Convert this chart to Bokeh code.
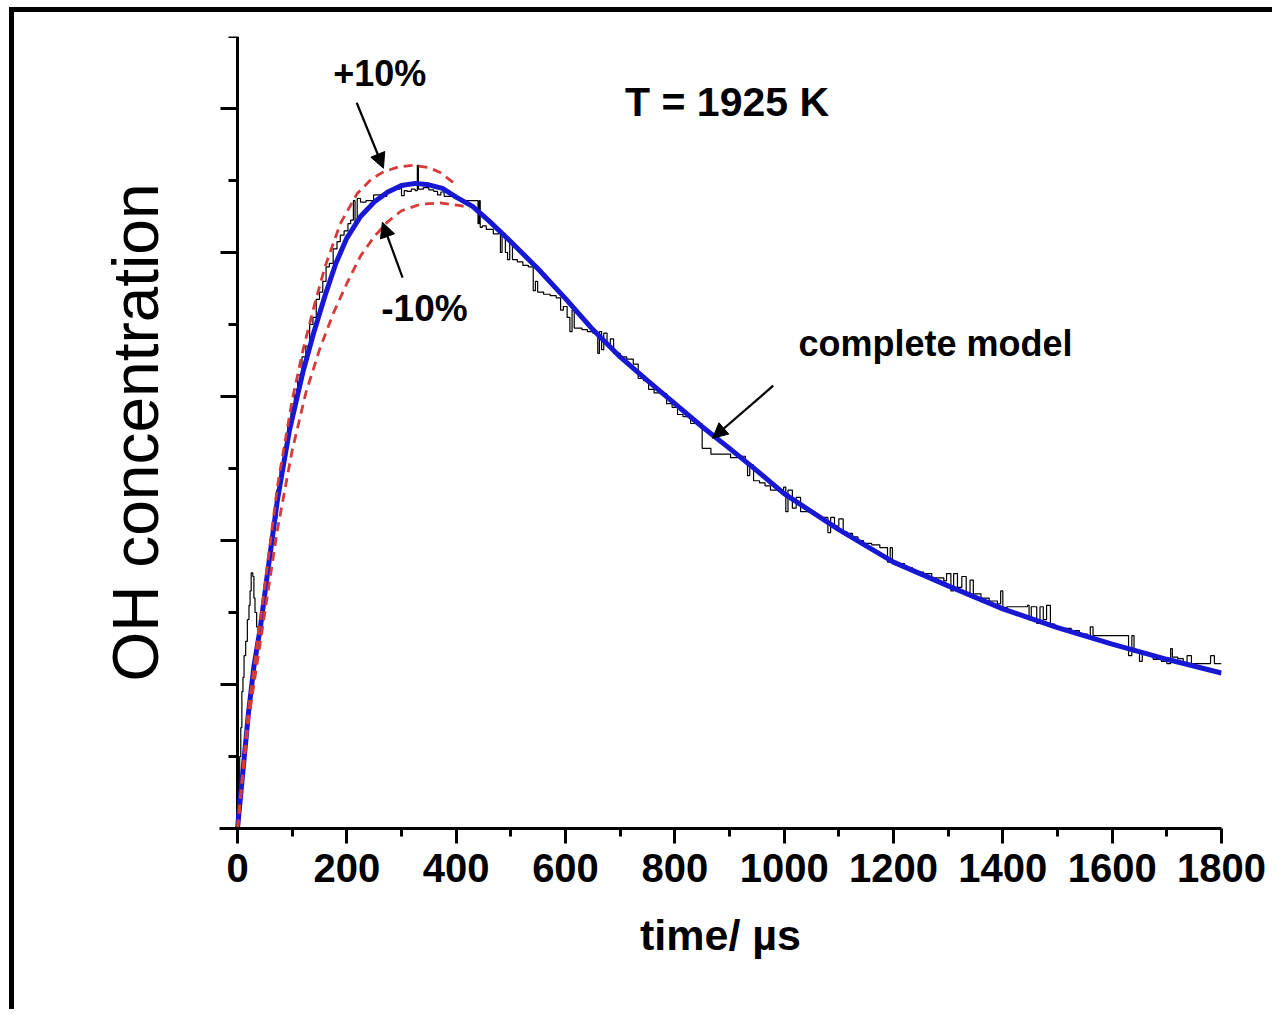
from bokeh.plotting import figure
from bokeh.models import Range1d, FixedTicker, Arrow, NormalHead, ColumnDataSource
from bokeh.core.properties import value
from bokeh.embed import file_html
from bokeh.resources import INLINE

# ---------------- data ----------------
model_t = [0, 5, 10, 20, 30, 42, 55, 73, 95, 120, 140, 160, 180, 200, 225, 250, 275, 300, 325,
           350, 375, 400, 430, 460, 500, 550, 600, 650, 700, 750, 800, 850, 900, 950, 1000,
           1100, 1200, 1300, 1400, 1500, 1600, 1700, 1800]
model_y = [0, 0.04, 0.08, 0.16, 0.225, 0.28, 0.355, 0.456, 0.553, 0.635, 0.69, 0.74, 0.785, 0.82,
           0.85, 0.87, 0.884, 0.893, 0.896, 0.894, 0.889, 0.877, 0.864, 0.844, 0.815, 0.777,
           0.736, 0.693, 0.655, 0.622, 0.59, 0.558, 0.528, 0.497, 0.465, 0.415, 0.370, 0.337,
           0.305, 0.279, 0.256, 0.235, 0.216]

plus10_t = [0, 20, 42, 73, 100, 120, 140, 160, 188, 219, 245, 267, 295, 322, 350, 371, 395]
plus10_y = [0, 0.165, 0.29, 0.475, 0.595, 0.665, 0.725, 0.78, 0.84, 0.882, 0.902, 0.912, 0.919,
            0.921, 0.918, 0.911, 0.897]

minus10_t = [0, 20, 42, 73, 100, 125, 150, 175, 200, 225, 250, 275, 300, 335, 371, 408, 425]
minus10_y = [0, 0.15, 0.26, 0.415, 0.525, 0.605, 0.665, 0.715, 0.757, 0.795, 0.822, 0.843,
             0.858, 0.867, 0.869, 0.865, 0.862]

# measured OH signal (step trace), (time, value) pairs
signal_rise = [(0, 0), (2, 0.05), (4, 0.10), (6, 0.14), (8, 0.19), (10, 0.21), (12, 0.24),
               (15, 0.26), (18, 0.29), (21, 0.31), (23, 0.33), (25, 0.355), (28, 0.35),
               (30, 0.32), (32, 0.30), (35, 0.28), (38, 0.275), (42, 0.29), (46, 0.31),
               (50, 0.34), (55, 0.37), (60, 0.40), (66, 0.43), (72, 0.47), (78, 0.50),
               (85, 0.53), (92, 0.56), (98, 0.585), (104, 0.61), (110, 0.63), (118, 0.655),
               (125, 0.67), (132, 0.70), (138, 0.71), (144, 0.735), (150, 0.745), (156, 0.76),
               (162, 0.78), (168, 0.785), (175, 0.805), (182, 0.815), (188, 0.824), (195, 0.83),
               (202, 0.84), (207, 0.845), (212, 0.872), (215, 0.84), (219, 0.875), (225, 0.87),
               (235, 0.872), (249, 0.88), (262, 0.878), (273, 0.886), (285, 0.888)]
signal_peak = [(297, 0.89), (300, 0.879), (305, 0.886), (310, 0.885), (318, 0.888), (325, 0.886),
               (329, 0.921), (331, 0.888), (340, 0.89), (350, 0.887), (359, 0.885), (366, 0.88),
               (372, 0.884), (378, 0.878), (390, 0.88), (400, 0.874), (408, 0.872), (420, 0.872),
               (432, 0.872), (440, 0.84), (442, 0.872), (444, 0.835)]
signal_decay = [(448, 0.837), (455, 0.832), (468, 0.826), (478, 0.828), (481, 0.80), (484, 0.826),
                (490, 0.80), (494, 0.79), (498, 0.815), (503, 0.79), (512, 0.787), (522, 0.782),
                (532, 0.78), (541, 0.747), (545, 0.76), (549, 0.745), (560, 0.742), (572, 0.74),
                (583, 0.737), (591, 0.72), (596, 0.725), (603, 0.71), (608, 0.69), (612, 0.72),
                (616, 0.695), (622, 0.695), (630, 0.693), (640, 0.69), (650, 0.688), (659, 0.66),
                (662, 0.69), (666, 0.665), (670, 0.688), (676, 0.67), (682, 0.68), (688, 0.66),
                (700, 0.655), (712, 0.652), (724, 0.645), (733, 0.625), (743, 0.622), (752, 0.61),
                (762, 0.605), (774, 0.604), (785, 0.59), (795, 0.585), (805, 0.575), (815, 0.572),
                (829, 0.5625), (840, 0.562), (850, 0.528), (858, 0.528), (866, 0.52), (875, 0.52),
                (890, 0.52), (902, 0.515), (915, 0.517), (929, 0.51), (933, 0.49), (937, 0.505),
                (944, 0.483), (955, 0.48), (965, 0.476), (975, 0.47), (990, 0.47), (999, 0.474),
                (1003, 0.44), (1007, 0.47), (1015, 0.445), (1022, 0.46), (1030, 0.44),
                (1042, 0.44), (1055, 0.435), (1065, 0.43), (1072, 0.432), (1080, 0.411),
                (1085, 0.432), (1092, 0.42), (1100, 0.43), (1108, 0.412), (1115, 0.41),
                (1125, 0.405), (1135, 0.40), (1145, 0.396), (1160, 0.394), (1175, 0.39),
                (1189, 0.37), (1194, 0.39), (1198, 0.368), (1207, 0.368), (1220, 0.362),
                (1235, 0.356), (1255, 0.354), (1270, 0.348), (1292, 0.344), (1297, 0.354),
                (1305, 0.33), (1310, 0.354), (1317, 0.335), (1325, 0.35), (1333, 0.325),
                (1340, 0.345), (1346, 0.326), (1360, 0.32), (1375, 0.316), (1390, 0.312)]
signal_tail = [(1396, 0.33), (1400, 0.307), (1408, 0.308), (1445, 0.31), (1448, 0.29),
               (1452, 0.308), (1456, 0.308), (1462, 0.285), (1468, 0.308), (1474, 0.29),
               (1480, 0.31), (1487, 0.284), (1495, 0.28), (1505, 0.278), (1511, 0.278),
               (1525, 0.275), (1540, 0.27), (1555, 0.268), (1560, 0.28), (1565, 0.268),
               (1572, 0.268), (1590, 0.268), (1610, 0.268), (1627, 0.268), (1630, 0.24),
               (1636, 0.268), (1640, 0.245), (1646, 0.247), (1650, 0.232), (1655, 0.245),
               (1664, 0.243), (1675, 0.235), (1690, 0.232), (1700, 0.229), (1707, 0.25),
               (1710, 0.238), (1720, 0.236), (1730, 0.229), (1737, 0.24), (1745, 0.229),
               (1760, 0.229), (1775, 0.229), (1780, 0.24), (1787, 0.229), (1800, 0.229)]

x_ticks = [0, 200, 400, 600, 800, 1000, 1200, 1400, 1600, 1800]
x_minor = [100, 300, 500, 700, 900, 1100, 1300, 1500, 1700]
y_ticks = [0, 0.2, 0.4, 0.6, 0.8, 1.0]
y_minor = [0.1, 0.3, 0.5, 0.7, 0.9, 1.1]

annot_text = ["+10%", "-10%", "T = 1925 K", "complete model"]
annot_t = [175, 263, 709, 1026]
annot_y = [1.048, 0.722, 1.009, 0.673]

arrow_start_t = [218, 302, 980]
arrow_start_y = [1.008, 0.765, 0.615]
arrow_end_t = [267, 265, 869]
arrow_end_y = [0.917, 0.842, 0.542]

# ---------------- layout ----------------
X_END = 1800
Y_END = 1.1
PX_PER_T = 984 / X_END          # 984 px between t=0 and t=1800
LEFT_EXT = 18 / PX_PER_T        # the frame starts 18 px left of t=0 (long y ticks)
MAJOR_LEN = 17 / PX_PER_T
MINOR_LEN = 9 / PX_PER_T

W, H = 1263, 1002
p = figure(width=W, height=H, output_backend="svg", toolbar_location=None,
           x_range=Range1d(-LEFT_EXT, X_END), y_range=Range1d(0, Y_END),
           min_border_left=205, min_border_right=56, min_border_top=24, min_border_bottom=186)
p.styles = {"margin-left": "9px", "margin-top": "7px",
            "border-left": "5px solid black", "border-top": "5px solid black"}
p.outline_line_color = None
p.grid.visible = False
p.background_fill_color = "white"
p.border_fill_color = "white"

xa = p.xaxis[0]
xa.ticker = FixedTicker(ticks=x_ticks, minor_ticks=x_minor)
xa.axis_line_width = 3
xa.major_tick_line_width = 3
xa.minor_tick_line_width = 3
xa.major_tick_out = 15
xa.major_tick_in = 0
xa.minor_tick_out = 8
xa.minor_tick_in = 0
xa.major_label_text_font = "Liberation Sans"
xa.major_label_text_font_style = "bold"
xa.major_label_text_font_size = "40px"
xa.major_label_text_color = "black"
xa.major_label_standoff = 10
xa.axis_label = "time/ µs"
xa.axis_label_text_font = "Liberation Sans"
xa.axis_label_text_font_style = "bold"
xa.axis_label_text_font_size = "43px"
xa.axis_label_text_color = "black"
xa.axis_label_standoff = 26

# y axis: only carries the title; its line and unlabeled ticks are drawn at t = 0
ya = p.yaxis[0]
ya.ticker = FixedTicker(ticks=[], minor_ticks=[])
ya.axis_line_color = None
ya.major_tick_line_color = None
ya.minor_tick_line_color = None
ya.major_tick_out = 0
ya.minor_tick_out = 0
ya.major_label_standoff = 0
ya.axis_label = "OH concentration"
ya.axis_label_text_font = "Liberation Sans"
ya.axis_label_text_font_style = "normal"
ya.axis_label_text_font_size = "64px"
ya.axis_label_text_color = "black"
ya.axis_label_standoff = 48

p.segment(x0=0, y0=0, x1=0, y1=Y_END, line_color="black", line_width=3)
p.segment(x0=0, y0=y_ticks, x1=-MAJOR_LEN, y1=y_ticks, line_color="black", line_width=3)
p.segment(x0=0, y0=y_minor, x1=-MINOR_LEN, y1=y_minor, line_color="black", line_width=3)

# measured signal
sig = signal_rise + signal_peak + signal_decay + signal_tail
p.step([s[0] for s in sig], [s[1] for s in sig], mode="after",
       line_color="black", line_width=1.2)

# complete model
p.line(model_t, model_y, line_color="#1717d4", line_width=5)

# +/- 10 % curves
p.line(plus10_t, plus10_y, line_color="#d83a3a", line_width=2.8, line_dash="9 6")
p.line(minus10_t, minus10_y, line_color="#d83a3a", line_width=2.8, line_dash="9 6")

# arrows
for xs, ys, xe, ye in zip(arrow_start_t, arrow_start_y, arrow_end_t, arrow_end_y):
    p.add_layout(Arrow(end=NormalHead(size=15, fill_color="black", line_color="black"),
                       x_start=xs, y_start=ys, x_end=xe, y_end=ye,
                       line_color="black", line_width=2.2))

# annotation texts
src = ColumnDataSource(dict(x=annot_t, y=annot_y, text=annot_text,
                            size=["36px", "37px", "41px", "36px"]))
p.text(x="x", y="y", text="text", source=src, text_font=value("Liberation Sans"),
       text_font_style="bold", text_font_size="size", text_color="black",
       text_align="left", text_baseline="alphabetic")

open("out.html", "w").write(file_html(p, INLINE))
